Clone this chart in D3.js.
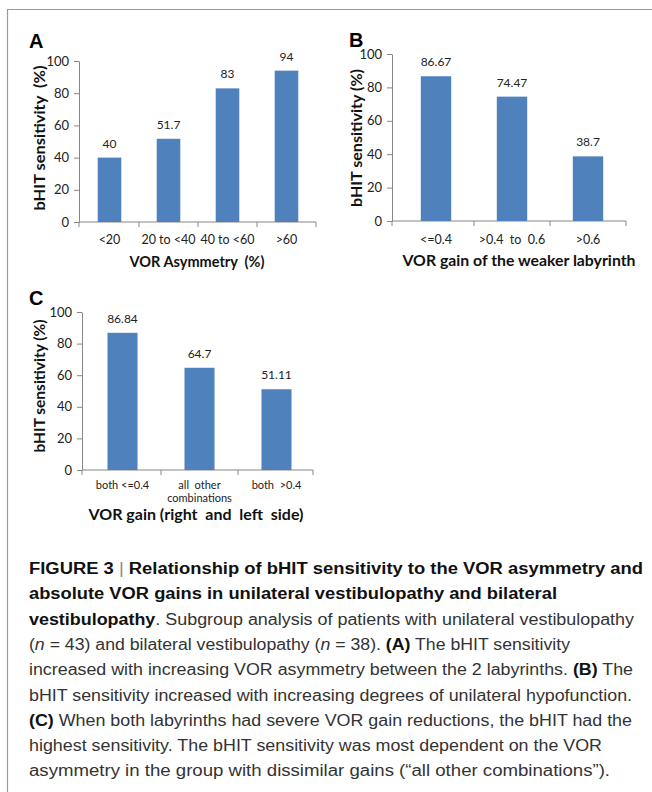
<!DOCTYPE html>
<html>
<head>
<meta charset="utf-8">
<script src="https://cdn.jsdelivr.net/npm/d3@7"></script>
<style>
  body { margin: 0; background: #fff; }
  svg { display: block; }
  text { white-space: pre; }
</style>
</head>
<body>
<div id="chart"></div>
<script>
// panel A - VOR asymmetry
const catsA = ["<20", "20 to <40", "40 to <60", ">60"];
const valsA = [40, 51.7, 83, 94];

// panel B - gain of weaker labyrinth
const catsB = ["<=0.4", ">0.4  to  0.6", ">0.6"];
const valsB = [86.67, 74.47, 38.7];

// panel C - gain both sides
const catsC = ["both <=0.4", "all  other\ncombinations", "both  >0.4"];
const valsC = [86.84, 64.7, 51.11];

const yTicks = [0, 20, 40, 60, 80, 100];

const captionLines = [
  [["b", "FIGURE 3 "], ["bar", "|"], ["b", " Relationship of bHIT sensitivity to the VOR asymmetry and"]],
  [["b", "absolute VOR gains in unilateral vestibulopathy and bilateral"]],
  [["b", "vestibulopathy"], ["r", ". Subgroup analysis of patients with unilateral vestibulopathy"]],
  [["r", "("], ["i", "n"], ["r", " = 43) and bilateral vestibulopathy ("], ["i", "n"], ["r", " = 38). "], ["b", "(A)"], ["r", " The bHIT sensitivity"]],
  [["r", "increased with increasing VOR asymmetry between the 2 labyrinths. "], ["b", "(B)"], ["r", " The"]],
  [["r", "bHIT sensitivity increased with increasing degrees of unilateral hypofunction."]],
  [["b", "(C)"], ["r", " When both labyrinths had severe VOR gain reductions, the bHIT had the"]],
  [["r", "highest sensitivity. The bHIT sensitivity was most dependent on the VOR"]],
  [["r", "asymmetry in the group with dissimilar gains (\u201call other combinations\u201d)."]]
];
const captionWidths = [614, 528, 605, 541, 604, 603, 603, 573, 581];

const W = 652, H = 792;
const barColor = "#4f81bd";
const axisColor = "#868686";
const chartFont = "Lato, 'Open Sans', sans-serif";

const svg = d3.select("#chart").append("svg")
    .attr("width", W)
    .attr("height", H);

// frame
svg.append("path")
    .attr("d", `M${W},9.5 H7.5 V${H}`)
    .attr("fill", "none")
    .attr("stroke", "#9a9a9a")
    .attr("stroke-width", 1.2);

function fit(sel, w) {
    sel.attr("textLength", w).attr("lengthAdjust", "spacingAndGlyphs");
}

function drawPanel(cfg) {
    const g = svg.append("g");

    const x = d3.scaleBand()
        .domain(cfg.cats)
        .range(cfg.bandRange)
        .paddingInner(cfg.pad)
        .paddingOuter(cfg.pad / 2);

    const y = d3.scaleLinear()
        .domain([0, 100])
        .range([cfg.bottom, cfg.top]);

    // y axis
    const yAxis = g.append("g")
        .attr("transform", `translate(${cfg.left},0)`)
        .call(d3.axisLeft(y).tickValues(yTicks).tickSize(5).tickSizeOuter(0).tickPadding(5));
    yAxis.select(".domain").attr("stroke", axisColor);
    yAxis.selectAll(".tick line").attr("stroke", axisColor);
    yAxis.selectAll(".tick text")
        .attr("font-family", chartFont)
        .attr("font-size", 13)
        .attr("fill", "#222");

    // x axis line
    g.append("line")
        .attr("x1", cfg.left).attr("x2", cfg.right)
        .attr("y1", cfg.bottom).attr("y2", cfg.bottom)
        .attr("stroke", axisColor);

    // tick marks between categories
    const edges = d3.range(cfg.cats.length + 1).map(i => cfg.bandRange[0] + i * x.step());
    edges[0] = cfg.left;
    edges[edges.length - 1] = cfg.right;
    g.selectAll(".xtick")
        .data(edges)
        .enter().append("line")
        .attr("x1", d => d).attr("x2", d => d)
        .attr("y1", cfg.bottom).attr("y2", cfg.bottom + 5)
        .attr("stroke", axisColor);

    // category labels
    const lab = g.selectAll(".xlab")
        .data(cfg.cats)
        .enter().append("text")
        .attr("x", d => x(d) + x.bandwidth() / 2)
        .attr("y", cfg.bottom + cfg.labDy)
        .attr("text-anchor", "middle")
        .attr("font-family", chartFont)
        .attr("font-size", cfg.labSize)
        .attr("fill", "#222");
    lab.each(function (d) {
        const t = d3.select(this);
        d.split("\n").forEach((s, i) => {
            t.append("tspan")
                .attr("x", x(d) + x.bandwidth() / 2)
                .attr("dy", i ? cfg.labSize * 1.15 : 0)
                .text(s);
        });
    });

    // bars
    g.selectAll(".bar")
        .data(cfg.vals)
        .enter().append("rect")
        .attr("x", (d, i) => x(cfg.cats[i]))
        .attr("y", d => y(d))
        .attr("width", x.bandwidth())
        .attr("height", d => cfg.bottom - y(d))
        .attr("fill", barColor);

    // value labels
    g.selectAll(".val")
        .data(cfg.vals)
        .enter().append("text")
        .attr("x", (d, i) => x(cfg.cats[i]) + x.bandwidth() / 2)
        .attr("y", d => y(d) - 10)
        .attr("text-anchor", "middle")
        .attr("font-family", chartFont)
        .attr("font-size", 12)
        .attr("fill", "#222")
        .text(d => String(d));

    // axis titles
    g.append("text")
        .attr("x", cfg.xTitleX)
        .attr("y", cfg.xTitleY)
        .attr("text-anchor", "middle")
        .attr("font-family", chartFont)
        .attr("font-weight", "bold")
        .attr("font-size", 15)
        .attr("fill", "#111")
        .text(cfg.xTitle)
        .call(fit, cfg.xTitleW);

    g.append("text")
        .attr("transform", `translate(${cfg.yTitleX},${cfg.yTitleY}) rotate(-90)`)
        .attr("text-anchor", "middle")
        .attr("font-family", chartFont)
        .attr("font-weight", "bold")
        .attr("font-size", 15)
        .attr("fill", "#111")
        .text(cfg.yTitle)
        .call(fit, cfg.yTitleW);

    // panel letter
    g.append("text")
        .attr("x", cfg.lx)
        .attr("y", cfg.ly)
        .attr("font-family", "'Liberation Sans', Arial, sans-serif")
        .attr("font-weight", "bold")
        .attr("font-size", 20)
        .attr("fill", "#000")
        .text(cfg.letter);
}

drawPanel({
    cats: catsA, vals: valsA, pad: 0.6,
    left: 79, right: 316, bandRange: [80, 316], top: 61, bottom: 222,
    labDy: 22, labSize: 12.5,
    xTitle: "VOR Asymmetry  (%)", xTitleX: 197, xTitleY: 267, xTitleW: 135,
    yTitle: "bHIT sensitivity  (%)", yTitleX: 45, yTitleY: 138, yTitleW: 145,
    letter: "A", lx: 29, ly: 48
});

drawPanel({
    cats: catsB, vals: valsB, pad: 0.6,
    left: 392, right: 626, bandRange: [398, 626], top: 54, bottom: 221,
    labDy: 23, labSize: 12.5,
    xTitle: "VOR gain of the weaker labyrinth", xTitleX: 519, xTitleY: 266, xTitleW: 233,
    yTitle: "bHIT sensitivity (%)", yTitleX: 362, yTitleY: 138, yTitleW: 138,
    letter: "B", lx: 349, ly: 47
});

drawPanel({
    cats: catsC, vals: valsC, pad: 0.61,
    left: 82, right: 313, bandRange: [84, 315], top: 312, bottom: 470,
    labDy: 19, labSize: 11,
    xTitle: "VOR gain (right  and  left  side)", xTitleX: 196, xTitleY: 520, xTitleW: 215,
    yTitle: "bHIT sensitivity (%)", yTitleX: 45, yTitleY: 386, yTitleW: 133,
    letter: "C", lx: 29, ly: 305
});

// caption
const cap = svg.append("g")
    .attr("font-family", "'Liberation Sans', Arial, sans-serif")
    .attr("font-size", 16);

captionLines.forEach((line, i) => {
    const t = cap.append("text")
        .attr("x", 29)
        .attr("y", 574 + i * 25.3);
    line.forEach(([style, s]) => {
        const sp = t.append("tspan").text(s);
        if (style === "b") sp.attr("font-weight", "bold").attr("fill", "#111");
        else if (style === "bar") sp.attr("fill", "#888").attr("font-weight", "normal");
        else if (style === "i") sp.attr("font-style", "italic").attr("fill", "#333");
        else sp.attr("fill", "#333");
    });
    fit(t, captionWidths[i]);
});
</script>
</body>
</html>
